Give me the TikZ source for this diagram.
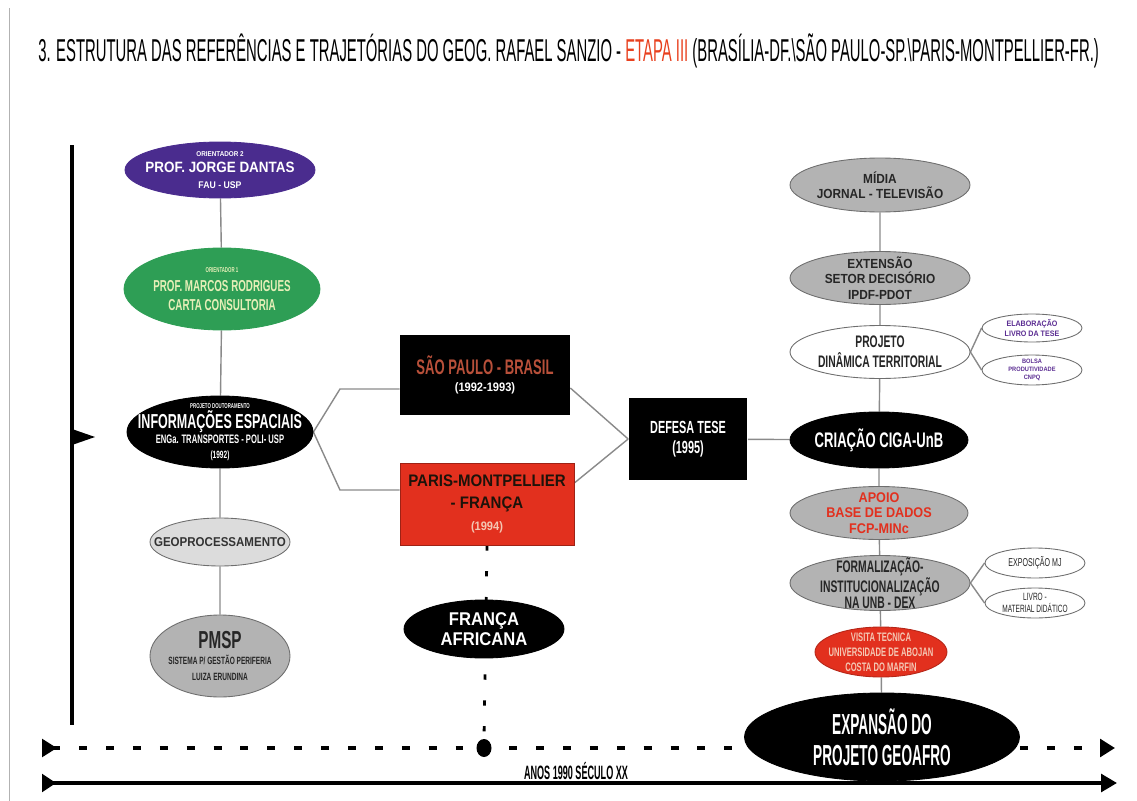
\documentclass[tikz,border=0pt]{standalone}
\usepackage{fontspec}
\setmainfont{Liberation Sans}
\newfontfamily\widefont[FakeStretch=0.9]{Liberation Sans}
\newfontfamily\narrowfont[FakeStretch=0.62]{Liberation Sans}
\newfontfamily\titlefont[FakeStretch=0.47]{Liberation Sans}
\usetikzlibrary{shapes.geometric}
\usetikzlibrary{arrows.meta}
\usetikzlibrary{backgrounds}
\definecolor{Orient}{HTML}{4A2C8E}
\definecolor{Consult}{HTML}{2E9E55}
\definecolor{ConsultText}{HTML}{E6EFB8}
\definecolor{Ovalgrey}{HTML}{B3B3B3}
\definecolor{Lightgrey}{HTML}{DCDCDC}
\definecolor{Edgegrey}{HTML}{6E6E6E}
\definecolor{Linkgrey}{HTML}{8A8A8A}
\definecolor{Brick}{HTML}{E2301E}
\definecolor{Rust}{HTML}{B8503A}
\definecolor{Salmon}{HTML}{F4C7B4}
\definecolor{Violet}{HTML}{5B2D92}
\definecolor{Titlered}{HTML}{E8401E}
% size and line distance of a node, size of a single line
\newcommand{\sz}[2]{\fontsize{#1}{#2}\selectfont}
\newcommand{\fs}[1]{\fontsize{#1}{#1}\selectfont}
\tikzset{
  % ovals keep the size they are given, the text does not widen them
  oval/.style={ellipse,inner sep=-1cm,align=center,line width=0.5pt},
  darkoval/.style={oval,draw=black,fill=black,text=white},
  greyoval/.style={oval,draw=Edgegrey,fill=Ovalgrey,text=black!85},
  lightoval/.style={oval,draw=Edgegrey,fill=Lightgrey,text=black!80},
  blankoval/.style={oval,draw=Edgegrey,fill=white,text=black!85},
  % places are plain boxes
  place/.style={rectangle,inner sep=0pt,align=center},
  link/.style={draw=Linkgrey,line width=0.8pt},
  era/.style={line width=2.8pt,dash pattern=on 4.5pt off 10.8pt},
  trail/.style={line width=1.6pt,dash pattern=on 3pt off 11.7pt},
  timeline/.style={line width=2pt},
}

\begin{document}
\begin{tikzpicture}[x=0.02cm,y=-0.02cm]
  \useasboundingbox (0,0) rectangle (1137,801);
  \draw[gray!60] (9,8) -- (9,801);

  \node[anchor=west,inner sep=0pt,font=\titlefont\sz{18}{20}] (title) at (38,51)
    {3. ESTRUTURA DAS REFERÊNCIAS E TRAJETÓRIAS DO GEOG. RAFAEL SANZIO - \textcolor{Titlered}{ETAPA III} (BRASÍLIA-DF.\textbackslash SÃO PAULO-SP.\textbackslash PARIS-MONTPELLIER-FR.)};

  % left column: orientation
  \node[oval,draw=Orient,fill=Orient,text=white,font=\widefont\bfseries\sz{8.5}{9},
    minimum width=3.8cm,minimum height=1.12cm] (jorge) at (220,170)
    {\fs{4}ORIENTADOR 2\\ PROF. JORGE DANTAS\\ \fs{5.5}FAU - USP};
  \node[oval,draw=Consult,fill=Consult,text=ConsultText,font=\narrowfont\bfseries\sz{9}{11},
    minimum width=3.92cm,minimum height=1.64cm] (marcos) at (222,289)
    {\fs{4}ORIENTADOR 1\\ PROF. MARCOS RODRIGUES\\ CARTA CONSULTORIA};
  \node[darkoval,font=\narrowfont\bfseries\sz{7}{8.5},
    minimum width=3.72cm,minimum height=1.44cm] (info) at (220,432)
    {\fs{4}PROJETO DOUTORAMENTO\\ \fs{11.5}INFORMAÇÕES ESPACIAIS\\
     ENGa. TRANSPORTES - POLI- USP\\ \fs{6}(1992)};
  \node[lightoval,font=\widefont\bfseries\sz{7.3}{9},
    minimum width=2.8cm,minimum height=0.96cm] (geo) at (220,542)
    {GEOPROCESSAMENTO};
  \node[greyoval,font=\narrowfont\bfseries\sz{6}{9},
    minimum width=2.8cm,minimum height=1.64cm] (pmsp) at (220,656)
    {\fs{14}PMSP\\ SISTEMA P/ GESTÃO PERIFERIA\\ LUIZA ERUNDINA};

  % middle: places and thesis
  \node[place,fill=black,font=\narrowfont\bfseries\sz{12}{10},
    minimum width=3.4cm,minimum height=1.62cm] (sp) at (485,375)
    {\textcolor{Rust}{SÃO PAULO - BRASIL}\\ \widefont\fs{7}\textcolor{white}{(1992-1993)}};
  \node[place,fill=Brick,draw=Brick!70!black,text=black!85!brown,font=\widefont\bfseries\sz{9.5}{12.5},
    minimum width=3.48cm,minimum height=1.64cm] (paris) at (487,504)
    {PARIS-MONTPELLIER\\ - FRANÇA\\ \fs{7}\textcolor{Salmon}{(1994)}};
  \node[place,fill=black,text=white,font=\narrowfont\bfseries\sz{10}{11.5},
    minimum width=2.38cm,minimum height=1.64cm] (defesa) at (688,439)
    {DEFESA TESE\\ (1995)};
  \node[darkoval,font=\widefont\bfseries\sz{10.5}{11.3},
    minimum width=3.2cm,minimum height=1.16cm] (africa) at (484,629)
    {FRANÇA\\ AFRICANA};
  \node[ellipse,fill=black,inner sep=0pt,minimum width=0.3cm,minimum height=0.36cm] (dot) at (484,748) {};

  % right column: after the thesis
  \node[greyoval,font=\widefont\bfseries\sz{7.5}{8.5},
    minimum width=3.6cm,minimum height=1.08cm] (midia) at (880,185)
    {MÍDIA\\ JORNAL - TELEVISÃO};
  \node[greyoval,font=\widefont\bfseries\sz{7.5}{8.8},
    minimum width=3.6cm,minimum height=1.06cm] (extensao) at (880,278)
    {EXTENSÃO\\ SETOR DECISÓRIO\\ IPDF-PDOT};
  \node[blankoval,font=\narrowfont\bfseries\sz{9.5}{11.3},
    minimum width=3.6cm,minimum height=1.06cm] (projeto) at (880,352)
    {PROJETO\\ DINÂMICA TERRITORIAL};
  \node[blankoval,text=Violet,font=\widefont\bfseries\sz{4.5}{5.7},
    minimum width=2cm,minimum height=0.56cm] (livrotese) at (1032,328)
    {ELABORAÇÃO\\ LIVRO DA TESE};
  \node[blankoval,text=Violet,font=\widefont\bfseries\sz{3.6}{4.5},
    minimum width=2cm,minimum height=0.6cm] (bolsa) at (1032,370)
    {BOLSA\\ PRODUTIVIDADE\\ CNPQ};
  \node[darkoval,font=\narrowfont\bfseries\sz{12}{13},
    minimum width=3.56cm,minimum height=1.12cm] (ciga) at (879,440)
    {CRIAÇÃO CIGA-UnB};
  \node[greyoval,text=Brick,font=\widefont\bfseries\sz{8}{8.8},
    minimum width=3.56cm,minimum height=1.06cm] (apoio) at (879,513)
    {APOIO\\ BASE DE DADOS\\ FCP-MINc};
  \node[greyoval,font=\narrowfont\bfseries\sz{9.5}{9},
    minimum width=3.6cm,minimum height=1.1cm] (formal) at (880,583)
    {FORMALIZAÇÃO-\\ INSTITUCIONALIZAÇÃO\\ NA UNB - DEX};
  \node[blankoval,font=\narrowfont\sz{6.5}{8},
    minimum width=2cm,minimum height=0.6cm] (expo) at (1035,563)
    {EXPOSIÇÃO MJ};
  \node[blankoval,font=\narrowfont\sz{6}{7.2},
    minimum width=2cm,minimum height=0.6cm] (livro) at (1035,603)
    {LIVRO -\\ MATERIAL DIDÁTICO};
  \node[oval,draw=Brick!80!black,fill=Brick,text=Salmon,font=\narrowfont\bfseries\sz{7}{8.5},
    minimum width=2.64cm,minimum height=1cm] (visita) at (881,652)
    {VISITA TECNICA\\ UNIVERSIDADE DE ABOJAN\\ COSTA DO MARFIN};
  \node[darkoval,font=\titlefont\bfseries\sz{16.5}{17.5},
    minimum width=5.5cm,minimum height=1.76cm] (expansao) at (882,737)
    {EXPANSÃO DO\\ PROJETO GEOAFRO};

  \node[inner sep=0pt,font=\titlefont\bfseries\sz{11}{12}] (anos) at (576,771) {ANOS 1990 SÉCULO XX};

  \coordinate (spbend) at (340,389);
  \coordinate (parbend) at (340,490);
  \coordinate (tlstart) at (42,748);
  \coordinate (tlend) at (1115,748);
  \coordinate (lnstart) at (42,783);
  \coordinate (lnend) at (1117,783);

  \begin{scope}[on background layer]
    \path[link] (jorge) -- (marcos) -- (info) -- (geo) -- (pmsp);
    \path[link] (info.east) -- (spbend) -- ([yshift=-0.28cm]sp.west);
    \path[link] (info.east) -- (parbend) -- ([yshift=0.28cm]paris.west);
    \path[link] ([yshift=-0.26cm]sp.east) -- (defesa.west);
    \path[link] ([yshift=0.42cm]paris.east) -- (defesa.west);
    \path[link] (defesa) -- (ciga);
    \path[link] (midia) -- (extensao) -- (projeto) -- (ciga) -- (apoio) -- (formal) -- (visita) -- (expansao);
    \path[link] (projeto.east) -- (livrotese.west);
    \path[link] (projeto.east) -- (bolsa.west);
    \path[link] (formal.east) -- (expo.west);
    \path[link] (formal.east) -- (livro.west);
    \draw[trail] (paris.south) -- (dot.north);
    \draw[era,{Triangle[reversed,length=8.5pt,width=10pt]}-{Triangle[length=8.5pt,width=10pt]}] (tlstart) -- (tlend);
  \end{scope}
  \draw[timeline,{Triangle[reversed,length=8pt,width=10pt]}-{Triangle[length=9pt,width=10pt]}] (lnstart) -- (lnend);

  % time axis on the left
  \draw[line width=2.8pt] (72,145) -- (72,725);
  \fill (72,429) -- (95,437) -- (72,445) -- cycle;
\end{tikzpicture}
\end{document}
